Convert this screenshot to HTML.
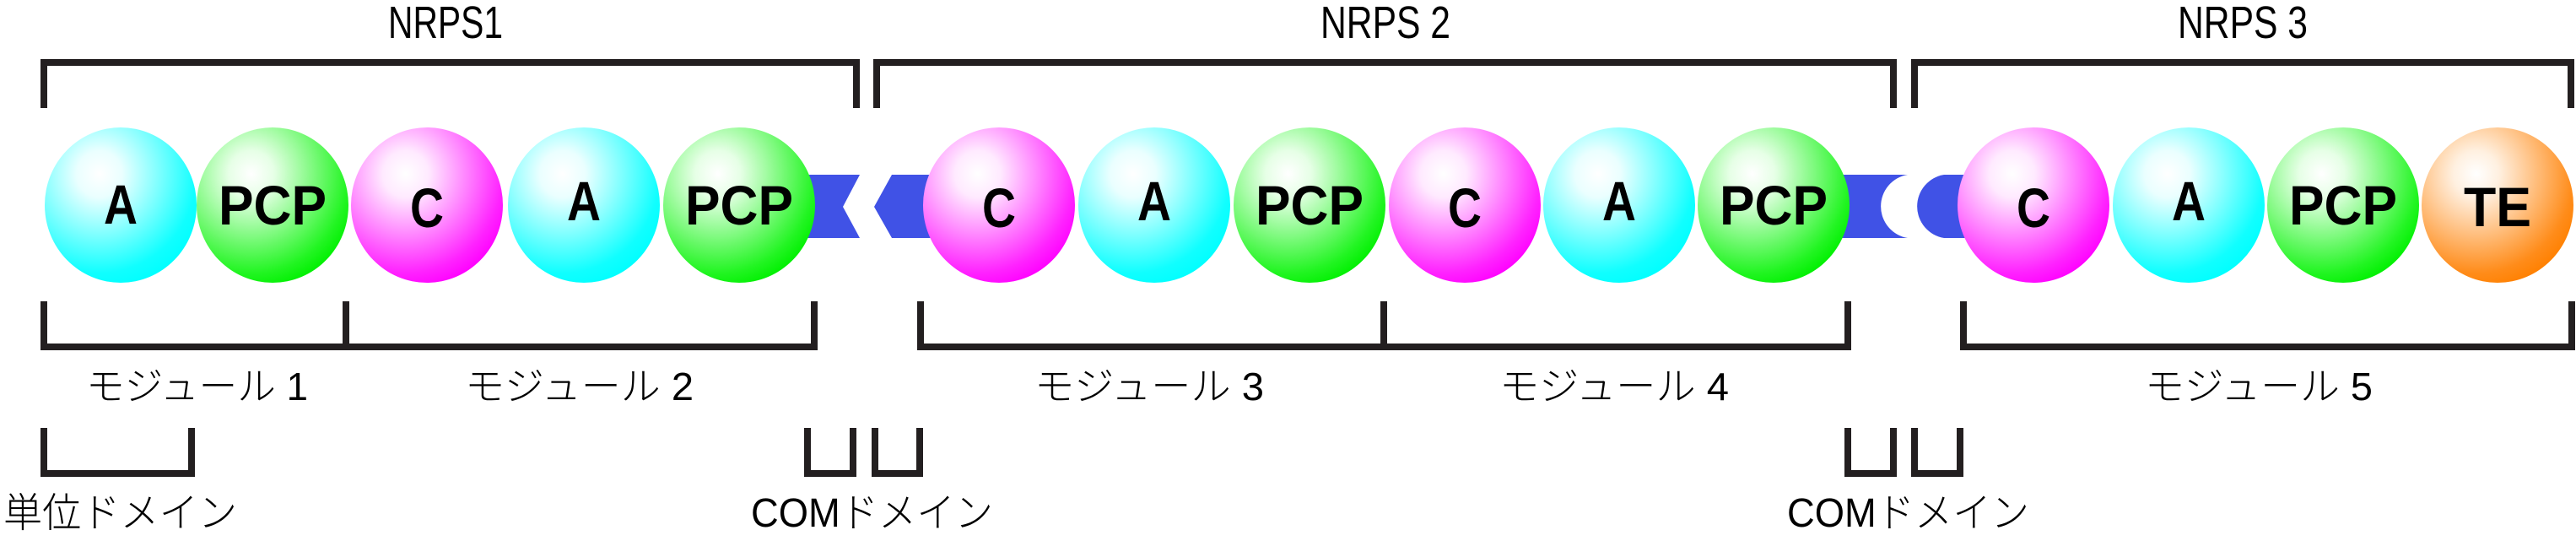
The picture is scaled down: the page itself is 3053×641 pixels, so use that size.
<!DOCTYPE html>
<html><head><meta charset="utf-8"><style>html,body{margin:0;padding:0;background:#fff}svg{display:block}</style></head>
<body>
<svg width="3053" height="641" viewBox="0 0 3053 641" xmlns="http://www.w3.org/2000/svg">
<defs>
<radialGradient id="gc" cx="0.36" cy="0.3" r="0.75"><stop offset="0" stop-color="#fff"/><stop offset="0.2" stop-color="#eaffff"/><stop offset="0.85" stop-color="#10ffff"/><stop offset="1" stop-color="#00ffff"/></radialGradient>
<radialGradient id="gg" cx="0.36" cy="0.3" r="0.75"><stop offset="0" stop-color="#fff"/><stop offset="0.2" stop-color="#e6ffe6"/><stop offset="0.85" stop-color="#22f522"/><stop offset="1" stop-color="#00f000"/></radialGradient>
<radialGradient id="gm" cx="0.36" cy="0.3" r="0.75"><stop offset="0" stop-color="#fff"/><stop offset="0.2" stop-color="#ffeaff"/><stop offset="0.85" stop-color="#ff22ff"/><stop offset="1" stop-color="#ff00ff"/></radialGradient>
<radialGradient id="go" cx="0.36" cy="0.3" r="0.75"><stop offset="0" stop-color="#fff"/><stop offset="0.2" stop-color="#fff0e0"/><stop offset="0.85" stop-color="#ff8c1a"/><stop offset="1" stop-color="#ff8000"/></radialGradient>
</defs>
<g fill="#4052e6">
<polygon points="930,207 1019,207 999,245 1019,282 930,282"/>
<polygon points="1036,245 1057,207 1130,207 1130,282 1057,282"/>
<path d="M2150,207 H2261 A38,38 0 0 0 2261,282 H2150 Z"/>
<path d="M2350,207 H2304 A38,38 0 0 0 2304,282 H2350 Z"/>
</g>
<g>
<ellipse cx="143" cy="243" rx="90" ry="92" fill="url(#gc)"/>
<ellipse cx="323" cy="243" rx="90" ry="92" fill="url(#gg)"/>
<ellipse cx="506" cy="243" rx="90" ry="92" fill="url(#gm)"/>
<ellipse cx="692" cy="243" rx="90" ry="92" fill="url(#gc)"/>
<ellipse cx="876" cy="243" rx="90" ry="92" fill="url(#gg)"/>
<ellipse cx="1184" cy="243" rx="90" ry="92" fill="url(#gm)"/>
<ellipse cx="1368" cy="243" rx="90" ry="92" fill="url(#gc)"/>
<ellipse cx="1552" cy="243" rx="90" ry="92" fill="url(#gg)"/>
<ellipse cx="1736" cy="243" rx="90" ry="92" fill="url(#gm)"/>
<ellipse cx="1919" cy="243" rx="90" ry="92" fill="url(#gc)"/>
<ellipse cx="2102" cy="243" rx="90" ry="92" fill="url(#gg)"/>
<ellipse cx="2410" cy="243" rx="90" ry="92" fill="url(#gm)"/>
<ellipse cx="2594" cy="243" rx="90" ry="92" fill="url(#gc)"/>
<ellipse cx="2777" cy="243" rx="90" ry="92" fill="url(#gg)"/>
<ellipse cx="2960" cy="243" rx="90" ry="92" fill="url(#go)"/>
</g>
<g font-family="Liberation Sans, sans-serif" font-weight="bold" font-size="66" text-anchor="middle" fill="#000">
<text x="143" y="265" textLength="40" lengthAdjust="spacingAndGlyphs">A</text>
<text x="323" y="266" textLength="128" lengthAdjust="spacingAndGlyphs">PCP</text>
<text x="506" y="269" textLength="40" lengthAdjust="spacingAndGlyphs">C</text>
<text x="692" y="261" textLength="40" lengthAdjust="spacingAndGlyphs">A</text>
<text x="876" y="266" textLength="128" lengthAdjust="spacingAndGlyphs">PCP</text>
<text x="1184" y="269" textLength="40" lengthAdjust="spacingAndGlyphs">C</text>
<text x="1368" y="261" textLength="40" lengthAdjust="spacingAndGlyphs">A</text>
<text x="1552" y="266" textLength="128" lengthAdjust="spacingAndGlyphs">PCP</text>
<text x="1736" y="269" textLength="40" lengthAdjust="spacingAndGlyphs">C</text>
<text x="1919" y="261" textLength="40" lengthAdjust="spacingAndGlyphs">A</text>
<text x="2102" y="266" textLength="128" lengthAdjust="spacingAndGlyphs">PCP</text>
<text x="2410" y="269" textLength="40" lengthAdjust="spacingAndGlyphs">C</text>
<text x="2594" y="261" textLength="40" lengthAdjust="spacingAndGlyphs">A</text>
<text x="2777" y="266" textLength="128" lengthAdjust="spacingAndGlyphs">PCP</text>
<text x="2960" y="268" textLength="80" lengthAdjust="spacingAndGlyphs">TE</text>
</g>
<g fill="none" stroke="#231f20" stroke-width="8" stroke-linecap="butt" stroke-linejoin="miter">
<polyline points="52,128 52,74 1015,74 1015,128"/>
<polyline points="1039,128 1039,74 2244,74 2244,128"/>
<polyline points="2269,128 2269,74 3047,74 3047,128"/>
<polyline points="52,357 52,411 965,411 965,357"/>
<line x1="410" y1="357" x2="410" y2="411"/>
<polyline points="1091,357 1091,411 2190,411 2190,357"/>
<line x1="1640" y1="357" x2="1640" y2="411"/>
<polyline points="2327,357 2327,411 3048,411 3048,357"/>
<polyline points="52,507 52,561 227,561 227,507"/>
<polyline points="957,507 957,561 1011,561 1011,507"/>
<polyline points="1037,507 1037,561 1090,561 1090,507"/>
<polyline points="2190,507 2190,561 2244,561 2244,507"/>
<polyline points="2269,507 2269,561 2323,561 2323,507"/>
</g>
<g font-family="Liberation Sans, 'Noto Sans CJK JP', sans-serif" font-weight="300" fill="#000">
<text x="460" y="45" font-size="54" textLength="136" lengthAdjust="spacingAndGlyphs">NRPS1</text>
<text x="1565" y="45" font-size="54" textLength="154" lengthAdjust="spacingAndGlyphs">NRPS 2</text>
<text x="2581" y="45" font-size="54" textLength="154" lengthAdjust="spacingAndGlyphs">NRPS 3</text>
<text x="102" y="474" font-size="46" textLength="263" lengthAdjust="spacingAndGlyphs">モジュール 1</text>
<text x="551" y="474" font-size="46" textLength="271" lengthAdjust="spacingAndGlyphs">モジュール 2</text>
<text x="1226" y="474" font-size="46" textLength="272" lengthAdjust="spacingAndGlyphs">モジュール 3</text>
<text x="1777" y="474" font-size="46" textLength="272" lengthAdjust="spacingAndGlyphs">モジュール 4</text>
<text x="2542" y="474" font-size="46" textLength="270" lengthAdjust="spacingAndGlyphs">モジュール 5</text>
<text x="4" y="624" font-size="48" textLength="277" lengthAdjust="spacingAndGlyphs">単位ドメイン</text>
<text x="890" y="624" font-size="48" textLength="287" lengthAdjust="spacingAndGlyphs">COMドメイン</text>
<text x="2118" y="624" font-size="48" textLength="287" lengthAdjust="spacingAndGlyphs">COMドメイン</text>
</g>
</svg>
</body></html>
